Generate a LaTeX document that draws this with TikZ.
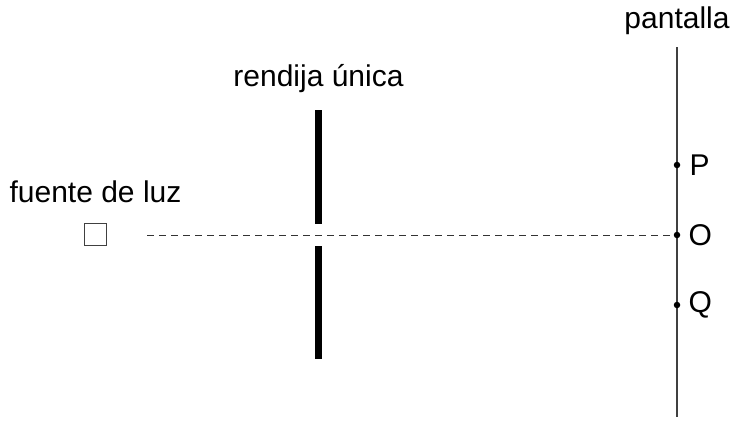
\documentclass[tikz,border=0pt]{standalone}
\usepackage{fontspec}
\setmainfont{Liberation Sans}
\usetikzlibrary{positioning}
\tikzset{
  txt/.style={inner sep=0pt, font=\fontsize{30}{35}\selectfont},
  source/.style={rectangle, draw=black!75, line width=1pt, minimum size=22pt, inner sep=0pt},
  slitbar/.style={draw=black, line width=7.5pt},
  screen/.style={draw=black!75, line width=1.5pt},
  axis/.style={draw=black!80, line width=1pt, dash pattern=on 7pt off 5pt},
  spot/.style={circle, fill=black, inner sep=0pt, minimum size=6.5pt},
}
\begin{document}
\begin{tikzpicture}[x=1pt,y=-1pt]
      \useasboundingbox (0,0) rectangle (731,421);

      % fuente
      \node[source] (src) at (95.5,234.5) {};
      \node[txt, above=20pt of src] (srclbl) {fuente de luz};

      % rendija
      \coordinate (slitA) at (318.5,110);
      \coordinate (slitB) at (318.5,224);
      \coordinate (slitC) at (318.5,246);
      \coordinate (slitD) at (318.5,359);
      \node[txt, above=17pt of slitA] (slitlbl) {rendija única};
      \path[slitbar] (slitA) -- (slitB);
      \path[slitbar] (slitC) -- (slitD);

      % pantalla
      \coordinate (scrtop) at (677,47);
      \coordinate (scrbot) at (677,417);
      \path[screen] (scrtop) -- (scrbot);
      \node[txt, above=12pt of scrtop] (scrlbl) {pantalla};

      \node[spot] (P) at (677,165) {};
      \node[spot] (O) at (677,235) {};
      \node[spot] (Q) at (677,305) {};
      \node[txt, right=9pt of P] (Plbl) {P};
      \node[txt, right=8pt of O] (Olbl) {O};
      \node[txt, right=8pt of Q] (Qlbl) {Q};

      % eje
      \coordinate (axstart) at (147,235);
      \path[axis] (axstart) -- (O);
\end{tikzpicture}
\end{document}
